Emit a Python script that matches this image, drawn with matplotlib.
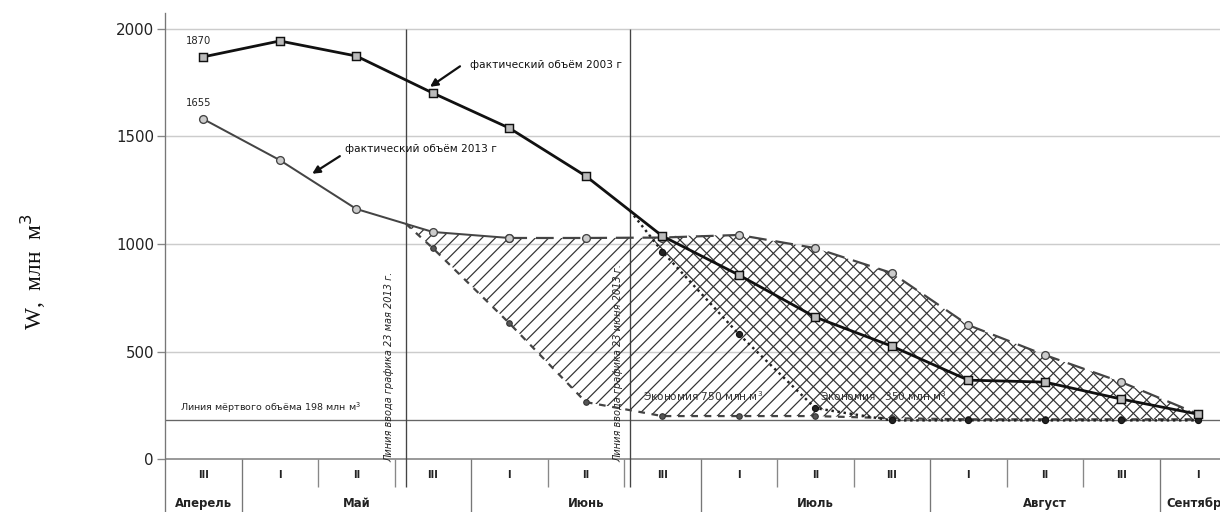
import numpy as np
import matplotlib
matplotlib.use("Agg")
import matplotlib.pyplot as plt

# decades (ten-day periods) from April III to September I
decades = ["III", "I", "II", "III", "I", "II", "III", "I", "II", "III", "I", "II", "III", "I"]
months = ["Аперель", "Май", "Июнь", "Июль", "Август", "Сентябрь"]
month_bounds = [0, 1, 4, 7, 10, 13, 14]

# reservoir volume, mln m3, one value per decade
vol_2003 = [1870, 1944, 1874, 1702, 1539, 1316, 1037, 856, 660, 525, 367, 358, 279, 209]
vol_2013 = [1581, 1390, 1163, 1056, 1028, 1028, 1030, 1042, 981, 865, 623, 484, 358, 210]
n_fact_2013 = 5  # actual values, the rest is the dashed continuation
sched_may = [981, 632, 265, 200, 200, 200, 190, 185, 185, 185, 185]  # from May III
sched_june = [965, 581, 237, 180, 180, 180, 180, 180]  # from June III
dead_volume = 180
line_may = 3.15   # 23 May
line_june = 6.08  # 23 June

plt.rcParams['font.family'] = ['DejaVu Sans']
plt.rcParams['hatch.linewidth'] = 1.1

fig = plt.figure(figsize=(15.25, 6.4), dpi=80)
ax = fig.add_axes([165 / 1220, 0, 1055 / 1220, 499 / 512])
ax.set_xlim(0, 13.79)
ax.set_ylim(-246, 2074)

x = np.arange(len(decades)) + 0.5

# grid and axis
ax.hlines([500, 1000, 1500, 2000], 0, 14, color='#cccccc', lw=1.3, zorder=0)
ax.axhline(0, color='#888888', lw=1.5, zorder=1)
ax.axhline(dead_volume, color='#666666', lw=1.2, zorder=1)
for s in ['top', 'right', 'bottom']:
    ax.spines[s].set_visible(False)
ax.spines['left'].set_color('#777777')
ax.spines['left'].set_linewidth(1.2)
ax.set_xticks([])
ax.set_yticks([0, 500, 1000, 1500, 2000])
ax.tick_params(axis='y', length=7, width=1.2, color='#888888', labelsize=13.5,
               labelcolor='#222222', pad=3)

# table under the chart
for b in range(1, 14):
    if b in month_bounds:
        ax.vlines(b, -246, 0, color='#777777', lw=1.2)
    else:
        ax.vlines(b, -130, 0, color='#888888', lw=1.2)
for xi, d in zip(x, decades):
    ax.text(xi, -74, d, ha='center', va='center', fontsize=9, fontweight='bold', color='#222222')
for i, m in enumerate(months):
    mx = (month_bounds[i] + month_bounds[i + 1]) / 2
    ax.text(mx, -205, m, ha='center', va='center', fontsize=10.5, fontweight='bold', color='#222222')

# graph input lines
for lx in [line_may, line_june]:
    ax.vlines(lx, -130, 2000, color='#444444', lw=1.2, zorder=2)
ax.text(2.93, -12, "Линия ввода графика 23 мая 2013 г.", rotation=90, ha='center', va='bottom',
        fontsize=8.8, style='italic', color='#222222')
ax.text(5.92, -12, "Линия ввода графика 23 июня 2013 г.", rotation=90, ha='center', va='bottom',
        fontsize=8.8, style='italic', color='#222222')
ax.text(0.2, 237, "Линия мёртвого объёма 198 млн м$^3$", fontsize=8.5, color='#222222', va='center')

# hatched saving areas
x1 = np.concatenate([[line_may], x[3:]])
top1 = np.interp(x1, x, vol_2013)
bot1 = np.concatenate([[top1[0]], sched_may])
ax.fill_between(x1, bot1, top1, facecolor='none', edgecolor='#333333', hatch='//', linewidth=0, zorder=2)

x2 = np.concatenate([[line_june], x[6:]])
top2 = np.maximum(np.interp(x2, x, vol_2013), np.interp(x2, x, vol_2003))
bot2 = np.concatenate([[top2[0]], sched_june])
ax.fill_between(x2, bot2, top2, facecolor='none', edgecolor='#333333', hatch='\\\\', linewidth=0, zorder=2)

ax.plot(x1, bot1, color='#444444', lw=2, ls=(0, (3, 3)), marker='o', ms=5,
        mfc='#555555', mec='#333333', markevery=list(range(1, len(x1))), zorder=3)
ax.plot(x2, bot2, color='#222222', lw=2.2, ls=(0, (1, 1.5)), marker='o', ms=5.5,
        mfc='#222222', mec='#111111', markevery=list(range(1, len(x2))), zorder=3)

# 2013 actual + continuation
ax.plot(x[:n_fact_2013], vol_2013[:n_fact_2013], color='#444444', lw=1.8, marker='o', ms=7,
        mfc='#cccccc', mec='#444444', mew=1.2, zorder=4)
ax.plot(x[n_fact_2013 - 1:], vol_2013[n_fact_2013 - 1:], color='#444444', lw=2, ls=(0, (8, 4)),
        marker='o', ms=7, mfc='#cccccc', mec='#444444', mew=1.2, zorder=4)

# 2003 actual
ax.plot(x, vol_2003, color='#111111', lw=2.5, marker='s', ms=7, mfc='#bbbbbb', mec='#111111',
        mew=1.3, zorder=5)

ax.text(0.44, 1944, "1870", ha='center', va='center', fontsize=9, color='#222222')
ax.text(0.44, 1656, "1655", ha='center', va='center', fontsize=9, color='#222222')

ax.annotate("", xy=(3.44, 1725), xytext=(3.88, 1832),
            arrowprops=dict(arrowstyle='-|>', color='#111111', lw=2, mutation_scale=14))
ax.text(3.99, 1832, "фактический объём 2003 г", fontsize=9.5, va='center', color='#111111')
ax.annotate("", xy=(1.9, 1321), xytext=(2.31, 1414),
            arrowprops=dict(arrowstyle='-|>', color='#111111', lw=2, mutation_scale=14))
ax.text(2.35, 1442, "фактический объём 2013 г", fontsize=9.5, va='center', color='#111111')

ax.text(6.25, 293, "Экономия 750 млн м$^3$", fontsize=9.5, va='center', color='#333333')
ax.text(8.56, 293, "Экономия   350 млн м$^3$", fontsize=9.5, va='center', color='#333333')

fig.text(33 / 1220, 1 - 272 / 512, "W,  млн  м$^3$", rotation=90, ha='center', va='center',
         fontsize=21, family='Liberation Serif', color='#111111')

fig.savefig("out.png", dpi=80)
